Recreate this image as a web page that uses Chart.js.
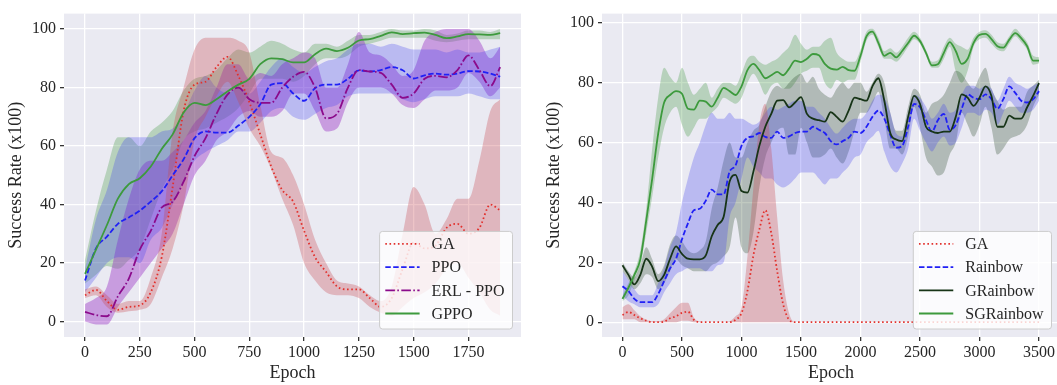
<!DOCTYPE html>
<html>
<head>
<meta charset="utf-8">
<script src="https://cdn.jsdelivr.net/npm/chart.js@4.4.1/dist/chart.umd.min.js"></script>
<style>
  html, body { margin: 0; padding: 0; background: #fff; overflow: hidden; }
  #wrap { position: relative; width: 1057px; height: 385px; overflow: hidden; }
  #left  { position: absolute; left: 0;     top: 0; }
  #right { position: absolute; left: 530px; top: 0; }
</style>
</head>
<body>
<div id="wrap">
  <canvas id="left" width="530" height="385"></canvas>
  <canvas id="right" width="540" height="385"></canvas>
</div>
<script>
// ---------- left panel: PPO family ----------
const leftEpochs = [0,50,100,150,200,250,300,350,400,450,500,550,600,650,700,750,800,850,900,950,
  1000,1050,1100,1150,1200,1250,1300,1350,1400,1450,1500,1550,1600,1650,1700,1750,1800,1850,1895];

const gaLeft     = [9,10.8,7,4,5,5.5,10,22,46,72,81,82,87,90.5,84,75,64,53,45,41,31,22,17,12,11,11,8,5,8,18,27,25,26,32,33.4,30,32,40,38];
const gaLeftLow  = [8,9,5,3,3.5,4,6,15,25,40,62,70,77,82,75,66,60,52,42,33,20,14,10,9,9,8,5,3,2,5,8,10,13,18,20,15,10,4,2];
const gaLeftHigh = [11,12,9,6,7,7,15,30,65,80,93,97,97,97,96,92,74,58,56,50,40,28,20,14,13,12,9,7,12,30,46,40,30,35,42,42,55,72,76];

const ppo     = [14,25,29,33.4,35.6,37.9,41,44.5,50,55.5,62.7,65,64.6,64.6,67,70,74.3,81,81.5,78,75.5,79.8,81,81,83,85.9,85.5,86,87,85.9,83.1,84.2,84.8,84.4,84.8,85.6,85.5,84.8,83.7];
const ppoLow  = [10,15,20,22,22,20,28,32,40,48,55,58,60,62,65,65,68,72,73,70,69,71,73,74,77,78,78,78,78,76,75,76,77,77,77,78,77,76,76];
const ppoHigh = [18,35,45,58,63,63,63,65,66,71,79,84,80,78,80,78,82,87,90,87,85,87,89,90,93,95,95,94,95,94,93,93,93,92,93,92,92,93,94];

const erlPpo     = [3.3,2.2,1.8,8.6,14.7,24.6,31,39,41,47.8,56.6,62.7,71,77.6,80,76,74.8,74.8,80,83.7,85.4,80,69.5,71,80,86,85.5,85,81,76.5,78,83,84,83.5,86,91,86,80.5,87];
const erlPpoLow  = [0,-1,-1,5,10,15,20,25,30,40,50,55,62,65,70,72,70,70,72,78,78,72,65,66,75,80,80,80,78,74,73,76,79,79,80,85,82,77,80];
const erlPpoHigh = [6,8,12,28,42,52,55,55,58,62,68,72,80,88,88,83,85,84,88,90,92,90,80,80,88,99,92,91,88,84,86,96,99,100,100,100,96,90,94];

const gppo     = [16.3,24.6,33,42,47,49,53,59,64,71.5,74.8,74,76,78.7,81,83,88,90,89.7,88.6,88.6,91.4,93.3,92.5,93.6,96.1,96.6,97.7,98.9,98.3,98.6,98.8,98,96.9,97.5,98.3,98.2,98,98.6];
const gppoLow  = [13,16,19,18,21,25,35,45,52,62,65,66,68,70,73,78,83,83,83,82,84,88,90,90,91,94,95,96,97,97,97,97,96,95.5,96,96.5,96.5,96.5,96.5];
const gppoHigh = [21,38,52,63,63,60,65,68,72,79,83,84,86,90,93,92,94,96,95,93,92,95,95,94,96,98,98,99,100,99.5,99.5,100,99.5,98,98.5,99.5,99.5,99,100];

const leftXTicks = [0,250,500,750,1000,1250,1500,1750];

// ---------- right panel: Rainbow family ----------
const rightEpochs = [0,50,100,150,200,250,300,350,400,450,500,550,600,650,700,750,800,850,900,950,
  1000,1050,1100,1150,1200,1250,1300,1350,1400,1450,1500,1550,1600,1650,1700,1750,1800,1850,1900,1950,
  2000,2050,2100,2150,2200,2250,2300,2350,2400,2450,2500,2550,2600,2650,2700,2750,2800,2850,2900,2950,
  3000,3050,3100,3150,3200,3250,3300,3350,3400,3450,3500];

const gaRight     = [2.4,3.4,2.4,1.3,0.5,0,0,0.2,1.3,2,3.1,3.5,0.8,0,0,0,0,0,0,0.8,3,10.4,22.3,31,37.4,29.8,17,6,0.8,
  0,0,0,0,0,0,0,0,0,0,0,0,0,0,0,0,0,0,0,0,0,0,0,0,0,0,0,0,0,0,0,0,0,0,0,0,0,0,0,0,0,0];
const gaRightLow  = [1,1,1,0,0,0,0,0,0,0,0.5,0.5,0,0,0,0,0,0,0,0,0,0,0,0,0,0,0,0,0,
  0,0,0,0,0,0,0,0,0,0,0,0,0,0,0,0,0,0,0,0,0,0,0,0,0,0,0,0,0,0,0,0,0,0,0,0,0,0,0,0,0,0];
const gaRightHigh = [5,6,4,2,0.8,0.3,0.3,1,3,5,6.5,6.5,1.5,0.2,0,0,0,0,0.3,2,5,22,45,66,73,58,35,14,3,
  0,0,0,0,0,0,0,0,0,0,0,0,0,0,0,0,0,0,0,0,0,0,0,0,0,0,0,0,0,0,0,0,0,0,0,0,0,0,0,0,0,0];

const rainbow     = [12,10.4,7.8,6.7,6.7,6.7,9.4,13.7,18,21.2,27.7,33,37.4,37.9,40.6,44.3,42.7,42.7,50.3,52.4,
  58.9,61.6,62.1,63.2,61.9,61.6,63.7,61.6,62.1,63.2,63.7,63.7,65.3,64.3,63.2,60.5,59.4,60.5,61.6,63.7,
  63.2,65.3,68.6,70.7,68,62.6,58.3,58.9,65.3,72.9,71.8,67.5,63.7,67.5,69.6,64.3,65.9,71.3,76.1,75,
  74.5,76.1,74.5,71.3,74.5,78.8,76.6,74,73.4,74.5,77.2];
const rainbowLow  = [9,7,6,5,5,5,6,10,13,16,17,18,18,18,17,17,19,20,35,40,
  48,55,52,50,48,48,46,45,46,48,50,50,50,48,46,48,48,50,52,55,
  56,60,62,64,57,52,50,53,58,68,64,60,57,60,62,59,60,65,70,70,
  69,71,70,66,70,74,72,70,70,71,74];
const rainbowHigh = [17,14,11,9,9,9,13,18,25,30,40,48,55,60,66,70,68,68,70,68,
  68,67,66,67,70,72,71,72,73,74,74,72,72,70,68,65,63,65,67,68,
  68,70,74,76,75,70,63,62,70,76,75,72,68,70,73,70,71,76,79,79,
  78,79,78,74,78,82,80,79,78,79,80];

const gRainbow     = [19,15.8,12.6,15.8,21.2,18.5,13.7,15.8,21.2,25.3,22.8,21.2,21,21,22.3,28.7,32.5,35.2,47,49.2,
  43.8,43.3,50.3,58.9,65.3,69.6,74,74.2,71.8,73.4,75.2,69.6,68,67.5,67,70.2,68.6,67,70.7,75,
  74.5,74,78.8,81.5,74,63.2,61,60.5,68.6,75.6,72.9,65.3,63.7,63.2,63.7,63.7,68.6,76.1,75,72.3,
  75,78.8,75.6,65.3,65.3,69,68,68,71.8,75.6,79.9];
const gRainbowLow  = [17,14,11,13,16,15,11,13,17,21,19,18,17,17,17,19,20,22,25,35,
  25,23,30,45,55,60,64,65,56,56,65,60,55,55,56,58,55,53,57,64,
  70,70,73,77,68,58,58,56,62,72,65,55,52,49,50,56,60,70,66,62,
  66,72,65,56,58,61,62,63,66,72,76];
const gRainbowHigh = [20,17,15,19,25,21,16,19,26,29,27,24,23,24,27,38,45,54,60,55,
  55,60,64,66,72,77,79,78,80,82,83,80,82,78,76,75,78,80,78,80,
  80,77,80,83,80,70,64,64,72,78,76,70,73,74,76,80,84,83,80,78,
  82,85,78,74,71,72,72,72,77,79,81];

const sgRainbow     = [7.8,11.5,15.8,21,34,48,63,73.4,75.9,77.2,76.3,71.3,71,74,73.7,72,75,78.3,77.2,75.9,
  78.8,84.2,86.3,84.2,81.5,82.5,83.6,82.5,84.7,87.4,86.9,88,89.6,89.2,86.3,84.7,84.4,85.3,84.2,84,
  89,95.5,97.1,93.3,89,90,88.5,90.6,93.3,95.7,93.9,90,85.8,86.2,90,93.6,90.6,86.3,88,93.3,
  96,96.3,94.6,92.2,91.7,94.4,96.6,94.9,92.2,87.4,87.4];
const sgRainbowLow  = [7,9,14,19,30,42,55,65,70,72,66,62,65,68,68,70,72,75,74,73,
  75,80,83,80,76,79,80,78,78,80,83,84,85,85,80,78,81,80,81,81,
  87,94,96,92,88,88,87,89,92,94.5,93,89,85,85,88,92,84,80,84,92,
  94.5,95,93,91,90.5,93,95.5,93.5,91,86,86.5];
const sgRainbowHigh = [9,13,17,24,38,58,75,85,82,80,85,80,76,78,80,75,78,80,80,79,
  83,88,89,87,86,87,88,90,92,96,93,91,92,92,94,95,90,88,87,87,
  91,97,98,95,90.5,91.5,90,92,95,97,95,91,87,87.5,92,95,93,92,91,95,
  97,97.5,96,93.5,93,95.5,98,96,93.5,89,88.5];

const rightXTicks = [0,500,1000,1500,2000,2500,3000,3500];
const yTicks = [0,20,40,60,80,100];

// ---------- styling ----------
const COLORS = {
  red:    '#e2302c',
  blue:   '#2020f5',
  purple: '#8b0a8b',
  green:  '#3d9a3d',
  dark:   '#173417'
};
const BANDS = {
  red:    'rgba(200,70,80,0.32)',
  blue:   'rgba(60,60,240,0.28)',
  purple: 'rgba(150,40,195,0.40)',
  green:  'rgba(75,155,75,0.32)',
  dark:   'rgba(45,75,45,0.30)'
};
const DOT = [1.6, 2.6];
const DASH = [5.5, 2.4];
const DASHDOT = [9.6, 2.4, 1.6, 2.4];

const SERIF = '"Liberation Serif", "Times New Roman", serif';
const TEXT = '#262626';

function pts(xs, ys) {
  return xs.map((x, i) => ({ x: x, y: ys[i] }));
}

// line datasets first (for the legend), shaded min/max bands after them
function buildDatasets(xs, series) {
  const out = [];
  series.forEach((s, i) => {
    out.push({
      label: s.label,
      data: pts(xs, s.line),
      borderColor: s.color,
      borderDash: s.dash,
      borderWidth: 1.8,
      borderCapStyle: 'butt',
      pointRadius: 0,
      fill: false,
      cubicInterpolationMode: 'monotone',
      order: series.length - i
    });
  });
  series.forEach((s, i) => {
    out.push({
      label: '', isBand: true,
      data: pts(xs, s.low),
      borderColor: 'rgba(0,0,0,0)', borderWidth: 0.1,
      pointRadius: 0, fill: false,
      cubicInterpolationMode: 'monotone',
      order: 20 + i
    });
    out.push({
      label: '', isBand: true,
      data: pts(xs, s.high),
      borderColor: 'rgba(0,0,0,0)', borderWidth: 0.1,
      backgroundColor: s.band,
      pointRadius: 0, fill: '-1',
      cubicInterpolationMode: 'monotone',
      order: 20 + i
    });
  });
  return out;
}

// grey plot background
const plotBg = {
  id: 'plotBg',
  beforeDraw(chart) {
    const { ctx, chartArea: a } = chart;
    ctx.save();
    ctx.fillStyle = '#eaeaf2';
    ctx.fillRect(a.left, a.top, a.right - a.left, a.bottom - a.top);
    ctx.restore();
  }
};

// framed legend in the lower right corner of the plot
const boxLegend = {
  id: 'boxLegend',
  afterDraw(chart) {
    const { ctx, chartArea: a } = chart;
    const items = chart.data.datasets.filter(d => !d.isBand);
    ctx.save();
    ctx.font = '16px ' + SERIF;
    const textW = Math.max.apply(null, items.map(d => ctx.measureText(d.label).width));
    const w = 52 + textW + 8, h = 97.6;
    const x = a.right - 8.5 - w, y = a.bottom - 8 - h;
    ctx.beginPath();
    ctx.roundRect(x, y, w, h, 3);
    ctx.fillStyle = 'rgba(255,255,255,0.8)';
    ctx.fill();
    ctx.lineWidth = 1;
    ctx.strokeStyle = '#cccccc';
    ctx.stroke();
    items.forEach((d, i) => {
      const cy = y + 12.5 + i * 23.2;
      ctx.beginPath();
      ctx.setLineDash(d.borderDash || []);
      ctx.lineWidth = d.borderWidth;
      ctx.strokeStyle = d.borderColor;
      ctx.moveTo(x + 5.7, cy);
      ctx.lineTo(x + 40, cy);
      ctx.stroke();
      ctx.setLineDash([]);
      ctx.fillStyle = TEXT;
      ctx.textBaseline = 'middle';
      ctx.fillText(d.label, x + 52, cy + 1);
    });
    ctx.restore();
  }
};

function makeChart(id, cfg) {
  const tickFont = { family: SERIF, size: 16 };
  const titleFont = { family: SERIF, size: 18 };
  const grid = { color: '#ffffff', lineWidth: 1.3, tickColor: '#333333', tickLength: 4 };
  return new Chart(document.getElementById(id), {
    type: 'line',
    data: { datasets: buildDatasets(cfg.xs, cfg.series) },
    plugins: [plotBg, boxLegend],
    options: {
      responsive: false,
      animation: false,
      devicePixelRatio: 1,
      layout: { padding: { left: 0, right: cfg.padRight, top: 3, bottom: 0 } },
      plugins: { legend: { display: false }, tooltip: { enabled: false } },
      scales: {
        x: {
          type: 'linear', min: cfg.xMin, max: cfg.xMax,
          afterBuildTicks: s => { s.ticks = cfg.xTicks.map(v => ({ value: v })); },
          afterFit: s => { s.height = 48; },
          grid: grid,
          border: { display: false },
          ticks: { font: tickFont, color: TEXT, padding: 2, maxRotation: 0, autoSkip: false,
                   callback: v => String(v) },
          title: { display: true, text: 'Epoch', font: titleFont, color: TEXT, padding: { top: 0, bottom: 1 } }
        },
        y: {
          type: 'linear', min: cfg.yMin, max: cfg.yMax,
          afterBuildTicks: s => { s.ticks = yTicks.map(v => ({ value: v })); },
          afterFit: s => { s.width = cfg.yWidth; },
          grid: grid,
          border: { display: false },
          ticks: { font: tickFont, color: TEXT, padding: 4, callback: v => String(v) },
          title: { display: true, text: 'Success Rate (x100)', font: titleFont, color: TEXT,
                   padding: { top: cfg.yTitlePad, bottom: 0 } }
        }
      }
    }
  });
}

makeChart('left', {
  xs: leftEpochs,
  series: [
    { label: 'GA',        line: gaLeft, low: gaLeftLow, high: gaLeftHigh, color: COLORS.red,    band: BANDS.red,    dash: DOT },
    { label: 'PPO',       line: ppo,    low: ppoLow,    high: ppoHigh,    color: COLORS.blue,   band: BANDS.blue,   dash: DASH },
    { label: 'ERL - PPO', line: erlPpo, low: erlPpoLow, high: erlPpoHigh, color: COLORS.purple, band: BANDS.purple, dash: DASHDOT },
    { label: 'GPPO',      line: gppo,   low: gppoLow,   high: gppoHigh,   color: COLORS.green,  band: BANDS.green,  dash: [] }
  ],
  xMin: -96, xMax: 1990, xTicks: leftXTicks,
  yMin: -5.3, yMax: 105.3,
  yWidth: 64, yTitlePad: 5, padRight: 9
});

makeChart('right', {
  xs: rightEpochs,
  series: [
    { label: 'GA',        line: gaRight,   low: gaRightLow,   high: gaRightHigh,   color: COLORS.red,   band: BANDS.red,   dash: DOT },
    { label: 'Rainbow',   line: rainbow,   low: rainbowLow,   high: rainbowHigh,   color: COLORS.blue,  band: BANDS.blue,  dash: DASH },
    { label: 'GRainbow',  line: gRainbow,  low: gRainbowLow,  high: gRainbowHigh,  color: COLORS.dark,  band: BANDS.dark,  dash: [] },
    { label: 'SGRainbow', line: sgRainbow, low: sgRainbowLow, high: sgRainbowHigh, color: COLORS.green, band: BANDS.green, dash: [] }
  ],
  xMin: -172, xMax: 3676, xTicks: rightXTicks,
  yMin: -4.95, yMax: 103.1,
  yWidth: 72, yTitlePad: 13, padRight: 10
});
</script>
</body>
</html>
